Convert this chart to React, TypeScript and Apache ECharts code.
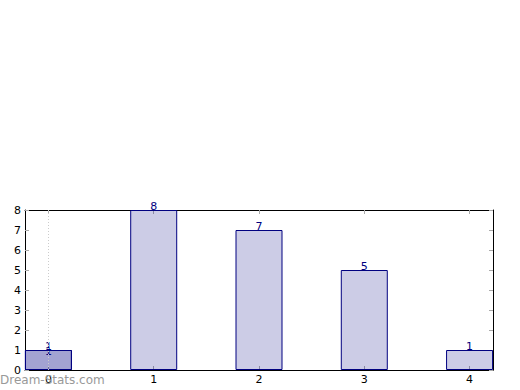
import React, { useEffect, useRef } from "react";
import * as echarts from "echarts";

const categories = [0, 1, 2, 3, 4];
const values = [1, 8, 7, 5, 1];
const highlightCategories = [0];
const highlightValues = [1];

const NAVY = "#000080";
const FILL = "rgba(0,0,128,0.2)";
const FONT = "DejaVu Sans";

export default function App() {
  const ref = useRef<HTMLDivElement>(null);
  useEffect(() => {
    document.body.style.margin = "0";
    const chart = echarts.init(ref.current!, null, { renderer: "svg" });
    const xCommon = {
      type: "value" as const,
      min: -0.2225,
      max: 4.2225,
      splitLine: { show: false },
      axisLine: { show: true, onZero: false, lineStyle: { color: "#000", width: 1 } },
      axisTick: { show: true, inside: true, length: 4, customValues: categories, lineStyle: { color: "#aaa" } },
    };
    const yCommon = {
      type: "value" as const,
      min: 0,
      max: 8,
      interval: 1,
      splitLine: { show: false },
      axisLine: { show: true, onZero: false, lineStyle: { color: "#000", width: 1 } },
      axisTick: { show: true, inside: true, length: 4, lineStyle: { color: "#aaa" } },
    };
    chart.setOption({
      animation: false,
      grid: { left: 25, top: 210, width: 468, height: 160, containLabel: false },
      xAxis: [
        {
          ...xCommon,
          position: "bottom",
          axisLabel: { show: true, customValues: categories, color: "#000", fontFamily: FONT, fontSize: 11, margin: 4 },
        },
        { ...xCommon, position: "top", axisLabel: { show: false } },
      ],
      yAxis: [
        {
          ...yCommon,
          position: "left",
          axisLabel: { show: true, color: "#000", fontFamily: FONT, fontSize: 11, margin: 4 },
        },
        { ...yCommon, position: "right", axisLabel: { show: false } },
      ],
      series: [
        {
          type: "bar",
          xAxisIndex: 0,
          yAxisIndex: 0,
          barWidth: 47,
          barGap: "-100%",
          data: categories.map((c, i) => [c, values[i]]),
          itemStyle: { color: FILL, borderColor: NAVY, borderWidth: 1 },
          label: { show: true, position: "top", distance: -2, color: NAVY, fontFamily: FONT, fontSize: 11 },
          markLine: {
            silent: true,
            symbol: "none",
            label: { show: false },
            lineStyle: { color: "#ccc", type: [1, 2], width: 1 },
            data: [{ xAxis: 0 }],
          },
        },
        {
          type: "bar",
          xAxisIndex: 0,
          yAxisIndex: 0,
          barWidth: 47,
          barGap: "-100%",
          data: highlightCategories.map((c, i) => [c, highlightValues[i]]),
          itemStyle: { color: FILL, borderColor: NAVY, borderWidth: 1 },
          label: { show: true, position: "top", distance: -2, offset: [0, 5], color: NAVY, fontFamily: FONT, fontSize: 11 },
        },
      ],
      graphic: [
        {
          type: "text",
          left: 0,
          top: 374,
          style: { text: "Dream-Stats.com", fill: "#999", font: "12px DejaVu Sans" },
          z: 100,
        },
      ],
    });
    return () => chart.dispose();
  }, []);
  return <div ref={ref} style={{ width: 520, height: 390 }} />;
}
